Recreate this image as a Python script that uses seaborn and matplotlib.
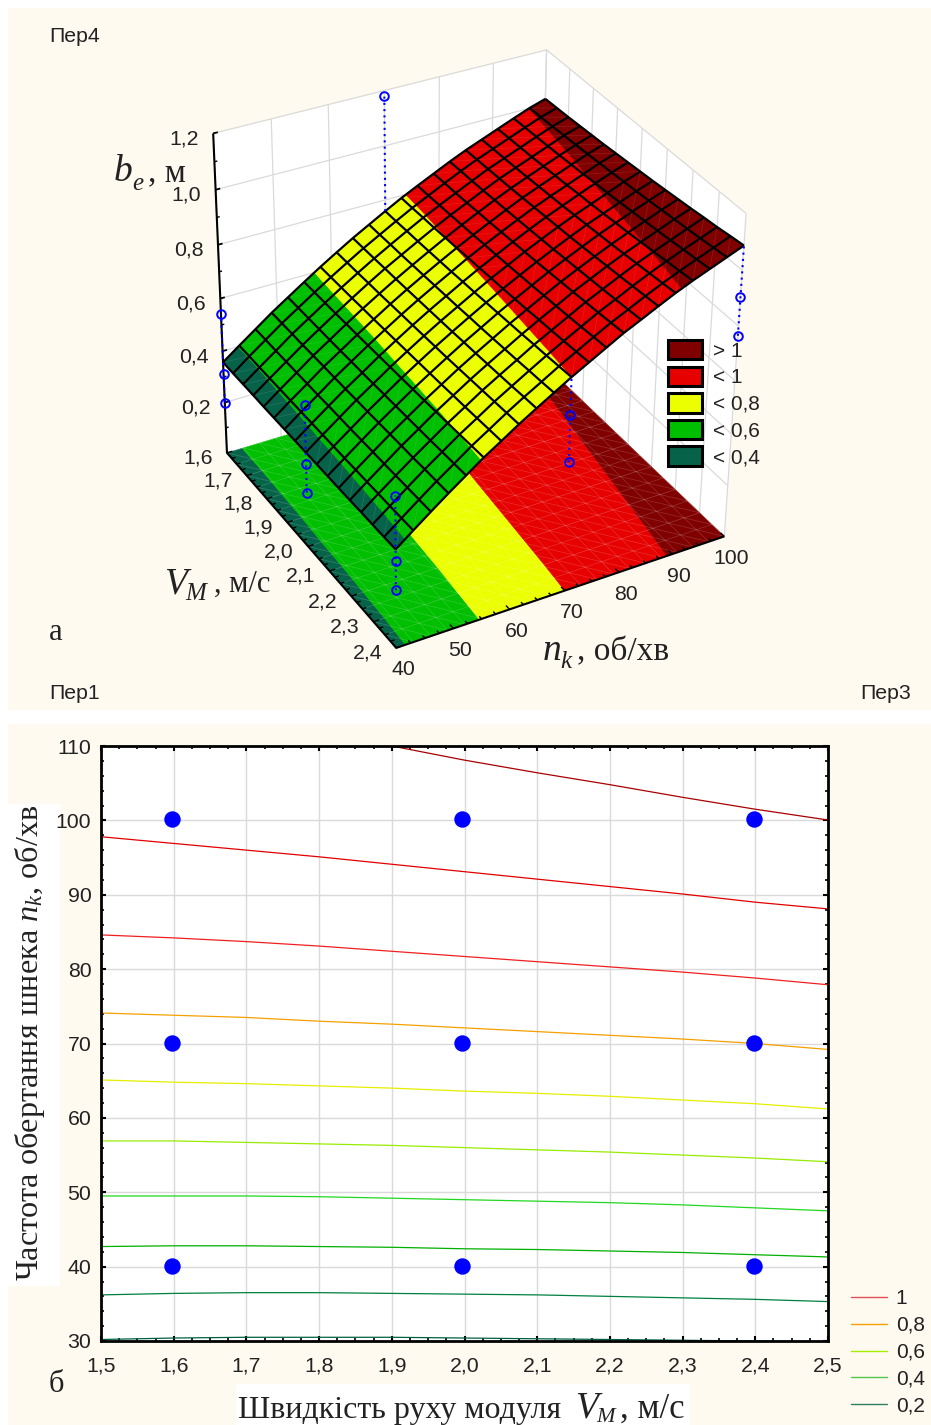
import numpy as np
import matplotlib
matplotlib.use("Agg")
import matplotlib.pyplot as plt
import seaborn as sns
from matplotlib.patches import Rectangle, Patch
from matplotlib.lines import Line2D
from mpl_toolkits.mplot3d.art3d import Line3DCollection

W, H = 931, 1425

# --- data ---
v_mesh = [1.6, 1.65, 1.7, 1.75, 1.8, 1.85, 1.9, 1.95, 2.0, 2.05, 2.1, 2.15, 2.2, 2.25, 2.3, 2.35, 2.4]
n_mesh = [40, 43, 46, 49, 52, 55, 58, 61, 64, 67, 70, 73, 76, 79, 82, 85, 88, 91, 94, 97, 100]
z_mesh = [
    [.357, .357, .358, .359, .359, .360, .361, .362, .363, .364, .365, .366, .367, .369, .370, .371, .373],
    [.403, .404, .404, .405, .406, .407, .408, .409, .410, .411, .412, .414, .415, .417, .418, .420, .422],
    [.448, .449, .449, .450, .451, .452, .453, .455, .456, .457, .459, .461, .462, .464, .466, .468, .470],
    [.493, .494, .495, .495, .497, .498, .499, .500, .502, .503, .505, .507, .509, .510, .513, .515, .517],
    [.534, .535, .536, .537, .538, .539, .541, .542, .544, .546, .548, .550, .552, .554, .557, .559, .562],
    [.575, .576, .577, .578, .580, .581, .583, .585, .587, .589, .591, .593, .596, .598, .601, .604, .607],
    [.615, .616, .617, .618, .620, .621, .623, .625, .627, .629, .631, .633, .636, .638, .641, .644, .647],
    [.653, .654, .655, .657, .658, .660, .662, .664, .666, .668, .670, .673, .676, .679, .682, .685, .688],
    [.690, .691, .692, .694, .695, .697, .699, .701, .703, .705, .708, .710, .713, .716, .719, .723, .726],
    [.724, .725, .727, .728, .730, .732, .734, .736, .738, .741, .743, .746, .749, .752, .756, .759, .763],
    [.758, .759, .761, .762, .764, .766, .768, .771, .773, .776, .779, .782, .785, .789, .792, .796, .800],
    [.791, .792, .794, .795, .797, .799, .802, .804, .807, .809, .812, .815, .819, .822, .826, .830, .834],
    [.821, .822, .824, .826, .828, .830, .833, .835, .838, .841, .844, .848, .851, .855, .859, .864, .868],
    [.850, .852, .853, .855, .858, .860, .863, .866, .869, .872, .876, .880, .884, .888, .892, .897, .902],
    [.879, .881, .882, .884, .887, .889, .892, .895, .898, .901, .905, .909, .913, .917, .921, .926, .931],
    [.906, .908, .910, .912, .914, .917, .920, .923, .926, .929, .933, .937, .942, .946, .951, .956, .961],
    [.930, .932, .934, .936, .939, .942, .945, .948, .952, .956, .960, .964, .969, .974, .979, .984, .990],
    [.954, .956, .958, .960, .963, .966, .969, .973, .976, .980, .985, .989, .994, .999, 1.005, 1.010, 1.016],
    [.978, .980, .982, .984, .987, .990, .993, .997, 1.000, 1.004, 1.009, 1.013, 1.018, 1.023, 1.029, 1.034, 1.040],
    [1.001, 1.003, 1.005, 1.008, 1.010, 1.013, 1.017, 1.020, 1.024, 1.028, 1.032, 1.037, 1.042, 1.047, 1.052, 1.058, 1.064],
    [1.020, 1.022, 1.024, 1.027, 1.030, 1.033, 1.037, 1.041, 1.045, 1.049, 1.054, 1.059, 1.064, 1.070, 1.075, 1.082, 1.088],
]

# isolines of the lower panel, n at each v_iso
v_iso = [1.5, 1.6, 1.7, 1.8, 1.9, 2.0, 2.1, 2.2, 2.3, 2.4, 2.5]
iso_11 = [np.nan, np.nan, np.nan, np.nan, 110, 108.1, 106.4, 104.8, 103.1, 101.5, 100.05]
iso_10 = [97.8, 96.9, 96.0, 95.1, 94.1, 93.1, 92.1, 91.1, 90.1, 89.0, 88.1]
iso_09 = [84.6, 84.2, 83.7, 83.1, 82.4, 81.7, 81.0, 80.3, 79.6, 78.8, 77.9]
iso_08 = [74.1, 73.8, 73.5, 73.0, 72.6, 72.1, 71.6, 71.1, 70.6, 70.0, 69.2]
iso_07 = [65.1, 64.8, 64.6, 64.3, 64.0, 63.6, 63.3, 62.9, 62.4, 61.9, 61.2]
iso_06 = [56.9, 56.9, 56.7, 56.5, 56.3, 56.0, 55.7, 55.4, 55.0, 54.6, 54.1]
iso_05 = [49.5, 49.5, 49.5, 49.4, 49.2, 49.0, 48.8, 48.6, 48.3, 47.9, 47.5]
iso_04 = [42.7, 42.8, 42.8, 42.7, 42.6, 42.4, 42.3, 42.1, 41.9, 41.6, 41.3]
iso_03 = [36.2, 36.4, 36.5, 36.5, 36.4, 36.3, 36.2, 36.0, 35.8, 35.6, 35.3]
iso_02 = [30.2, 30.4, 30.5, 30.5, 30.5, 30.4, 30.3, 30.2, 30.1, 30.0, 29.9]
iso_all = [iso_11, iso_10, iso_09, iso_08, iso_07, iso_06, iso_05, iso_04, iso_03, iso_02]
iso_colors = ["#A80000", "#E00000", "#F02020", "#F5A000", "#E6EE00", "#98EC00", "#20D820", "#00B000", "#008040", "#006040"]

# measured points, upper panel (dotted stems up to / down to the surface)
stem_v = [1.6, 1.6, 2.0, 2.4, 2.4, 2.4]
stem_n = [40, 70, 40, 40, 70, 100]
stem_surf = [.357, .758, .363, .373, .800, 1.088]
stem_z = [[.54, .31, .20], [1.18], [.54, .318, .21], [.57, .33, .22], [.665, .49], [.905, .765]]

# measured points, lower panel
point_v = [1.597, 1.997, 2.398, 1.597, 1.997, 2.398, 1.597, 1.997, 2.398]
point_n = [100.2, 100.2, 100.2, 70.1, 70.1, 70.1, 40.1, 40.1, 40.1]

v_ticks = [1.6, 1.7, 1.8, 1.9, 2.0, 2.1, 2.2, 2.3, 2.4]
n_ticks = [40, 50, 60, 70, 80, 90, 100]
z_ticks = [0.2, 0.4, 0.6, 0.8, 1.0, 1.2]
x2_ticks = [1.5, 1.6, 1.7, 1.8, 1.9, 2.0, 2.1, 2.2, 2.3, 2.4, 2.5]
y2_ticks = [30, 40, 50, 60, 70, 80, 90, 100, 110]

band_colors = ["#06634A", "#00BE00", "#EBFF00", "#E60000", "#800000"]
band_labels = ["> 1", "< 1", "< 0,8", "< 0,6", "< 0,4"]

# box corners in the picture, used to place the camera
calib_world = [(1.6, 40, 1.2), (1.6, 100, 1.2), (2.4, 100, 1.2), (1.6, 40, 0), (2.4, 40, 0), (2.4, 100, 0), (1.6, 40, .6)]
calib_px = [(213, 134), (547, 50), (746, 213), (227, 452.7), (396.7, 648), (724, 536.7), (220, 298)]

sns.set_theme(style="white")
plt.rcParams["font.family"] = ["Liberation Sans", "DejaVu Sans"]
plt.rcParams["text.color"] = "#222222"
plt.rcParams["axes.labelcolor"] = "#222222"
plt.rcParams["xtick.color"] = "#222222"
plt.rcParams["ytick.color"] = "#222222"
plt.rcParams["mathtext.fontset"] = "custom"
plt.rcParams["mathtext.rm"] = "Liberation Serif"
plt.rcParams["mathtext.it"] = "Liberation Serif:italic"
sans_size = 15.3

fig = plt.figure(figsize=(W / 100, H / 100), dpi=100, facecolor="white")


def ftext(x, y, s, **kw):
    return fig.text(x / W, 1 - y / H, s, **kw)


def frect(x0, y0, x1, y1, color):
    fig.add_artist(Rectangle((x0 / W, 1 - y1 / H), (x1 - x0) / W, (y1 - y0) / H, transform=fig.transFigure,
                             facecolor=color, edgecolor="none", zorder=-2))


cream = "#FFFAF0"
frect(8, 8, 931, 710, cream)
frect(8, 724, 931, 1425, cream)
frect(8, 804, 60, 1286, "white")
frect(236, 1384, 690, 1425, "white")

# camera from the box corners
scale_w = np.array([[1 / .4, 0, 0, -2 / .4], [0, 1 / 30, 0, -70 / 30], [0, 0, 1 / .6, -1], [0, 0, 0, 1]])
rows = []
for (a, b, c), (px, py) in zip(calib_world, calib_px):
    q = scale_w @ np.array([a, b, c, 1])
    rows.append(list(q) + [0, 0, 0, 0] + list(-px * q))
    rows.append([0, 0, 0, 0] + list(q) + list(-py * q))
P = np.linalg.svd(np.array(rows))[2][-1].reshape(3, 4) @ scale_w


def to_px(a, b, c):
    u = P @ np.array([a, b, c, 1])
    return u[0] / u[2], u[1] / u[2]


ax3 = fig.add_axes([0, 1 - W / H, 1, W / H], projection="3d", computed_zorder=False)
ax3.set_axis_off()
ax3.patch.set_visible(False)


def camera():
    tr = ax3.transData.inverted()
    p0, p1 = tr.transform([[0, H], [W, 0]])
    A = np.array([[(p1[0] - p0[0]) / W, 0, p0[0]], [0, (p1[1] - p0[1]) / H, p0[1]], [0, 0, 1]])
    Q = A @ P
    return np.array([Q[0], Q[1], [0, 0, 1, 0], Q[2]])


ax3.get_proj = camera


def line3(xs, ys, zs, color, lw, z, ls="solid"):
    ax3.add_collection3d(Line3DCollection([list(zip(xs, ys, zs))], colors=[color], linewidths=lw, linestyles=ls, zorder=z))


grey = "#DADADA"
# walls
ax3.plot_surface(np.array([[1.6, 1.6], [1.6, 1.6]]), np.array([[40, 100], [40, 100]]), np.array([[0, 0], [1.2, 1.2]]),
                 color="white", shade=False, linewidth=0, zorder=1)
ax3.plot_surface(np.array([[1.6, 2.4], [1.6, 2.4]]), np.array([[100, 100], [100, 100]]), np.array([[0, 0], [1.2, 1.2]]),
                 color="white", shade=False, linewidth=0, zorder=1)
for z in z_ticks:
    line3([1.6, 1.6, 2.4], [40, 100, 100], [z, z, z], grey, .9, 2)
for n in n_ticks:
    line3([1.6, 1.6], [n, n], [0, 1.2], grey, .9, 2)
for v in v_ticks:
    line3([v, v], [100, 100], [0, 1.2], grey, .9, 2)

# colour bands, built from the isolines of the lower panel (V 1.6 ... 2.4)
v_band = np.array(v_iso[1:10])
n40 = np.full(9, 40.0)
n100 = np.full(9, 100.0)
z_edge40 = np.array(z_mesh[0][::2])
z_edge100 = np.array(z_mesh[-1][::2])
edges = [(n40, z_edge40), (iso_04, .4), (iso_05, .5), (iso_06, .6), (iso_07, .7), (iso_08, .8), (iso_09, .9),
         (iso_10, 1.0), (n100, z_edge100)]
edge_band = [0, 1, 1, 2, 2, 3, 3, 4]
for k in range(len(edges) - 1):
    n_lo = np.array(edges[k][0], dtype=float)
    n_hi = np.array(edges[k + 1][0], dtype=float)
    if len(n_lo) == 11:
        n_lo = n_lo[1:10]
    if len(n_hi) == 11:
        n_hi = n_hi[1:10]
    z_lo = np.full(9, edges[k][1]) if np.isscalar(edges[k][1]) else edges[k][1]
    z_hi = np.full(9, edges[k + 1][1]) if np.isscalar(edges[k + 1][1]) else edges[k + 1][1]
    X = np.vstack([v_band, v_band])
    Y = np.vstack([n_lo, n_hi])
    c = band_colors[edge_band[k]]
    ax3.plot_surface(X, Y, np.zeros_like(X), color=c, shade=False, linewidth=.4, edgecolor=c, zorder=3)
    ax3.plot_surface(X, Y, np.vstack([z_lo, z_hi]), color=c, shade=False, linewidth=.4, edgecolor=c, zorder=6)

VV, NN = np.meshgrid(v_mesh, n_mesh)
ZZ = np.array(z_mesh)

# faint triangle mesh on the floor and the surface
floor_segs = []
surf_segs = []
for i in range(len(n_mesh) - 1):
    for j in range(len(v_mesh) - 1):
        floor_segs.append([(v_mesh[j], n_mesh[i], 0), (v_mesh[j + 1], n_mesh[i + 1], 0)])
        if v_mesh[j] < 2.0:
            surf_segs.append([(v_mesh[j], n_mesh[i], ZZ[i, j]), (v_mesh[j + 1], n_mesh[i + 1], ZZ[i + 1, j + 1])])
        else:
            surf_segs.append([(v_mesh[j + 1], n_mesh[i], ZZ[i, j + 1]), (v_mesh[j], n_mesh[i + 1], ZZ[i + 1, j])])
ax3.add_collection3d(Line3DCollection(floor_segs, colors=[(1, 1, 1, .16)], linewidths=.6, zorder=4))
ax3.plot_wireframe(VV, NN, np.zeros_like(ZZ), color=(1, 1, 1, .16), linewidth=.6, zorder=4)
ax3.add_collection3d(Line3DCollection(surf_segs, colors=[(1, 1, 1, .13)], linewidths=.45, zorder=7))
ax3.plot_wireframe(VV, NN, ZZ, color="black", linewidth=1.6, zorder=8)

# axes lines and ticks
line3([1.6, 1.6, 2.4, 2.4], [40, 40, 40, 100], [1.2, 0, 0, 0], "black", 1.5, 5)
for z in z_ticks:
    line3([1.6, 1.6], [40, 40.8], [z, z], "black", 1.3, 5)
for z in [.1, .3, .5, .7, .9, 1.1]:
    line3([1.6, 1.6], [40, 40.5], [z, z], "black", 1.0, 5)
for k in range(33):
    v = 1.6 + k * .025
    line3([v, v], [40, 41 if k % 4 == 0 else 40.7], [0, 0], "black", 1.0, 5)
for k in range(25):
    n = 40 + k * 2.5
    line3([2.4, 2.385 if k % 4 == 0 else 2.39], [n, n], [0, 0], "black", 1.0, 5)

# dotted stems
for v, n, s, zs in zip(stem_v, stem_n, stem_surf, stem_z):
    all_z = sorted(zs + [s])
    line3([v] * len(all_z), [n] * len(all_z), all_z, "#0000FF", 1.5, 9, ls=(0, (1, 2)))

# tick labels of the 3D box
for z in z_ticks:
    x, y = to_px(1.6, 40, z)
    ftext(x - 29, y + 5.5, f"{z:.1f}".replace(".", ","), ha="center", va="center", fontsize=sans_size)
for v in v_ticks:
    x, y = to_px(v, 40, 0)
    ftext(x - 29, y + 5.5, f"{v:.1f}".replace(".", ","), ha="center", va="center", fontsize=sans_size)
for n in n_ticks:
    x, y = to_px(2.4, n, 0)
    ftext(x + 7, y + 22, str(n), ha="center", va="center", fontsize=sans_size)

ax3.legend(handles=[Patch(facecolor=c, edgecolor="black", linewidth=2.2) for c in band_colors[::-1]], labels=band_labels,
           loc="upper left", bbox_to_anchor=(668 / W, 1 - 340 / H), bbox_transform=fig.transFigure, frameon=False,
           fontsize=15, handlelength=1.65, handleheight=1.05, labelspacing=.28, handletextpad=.5, borderpad=0, borderaxespad=0)

# panel labels
ftext(49, 37, "Пер4", fontsize=sans_size, va="center")
ftext(49, 693, "Пер1", fontsize=sans_size, va="center")
ftext(860, 693, "Пер3", fontsize=sans_size, va="center")
serif = ["Liberation Serif", "DejaVu Serif"]
ftext(49, 640, "а", family=serif, fontsize=22, va="baseline")
ftext(49, 1392, "б", family=serif, fontsize=22, va="baseline")
ftext(114, 181, "b", family=serif, style="italic", fontsize=27, va="baseline")
ftext(132, 190, "e", family=serif, style="italic", fontsize=18, va="baseline")
ftext(148, 181, ", м", family=serif, fontsize=24, va="baseline")
ftext(164, 593, "V", family=serif, style="italic", fontsize=27, va="baseline")
ftext(185, 600, "M", family=serif, style="italic", fontsize=18, va="baseline")
ftext(214, 592, ", м/с", family=serif, fontsize=22, va="baseline")
ftext(543, 660, "n", family=serif, style="italic", fontsize=27, va="baseline")
ftext(560, 668, "k", family=serif, style="italic", fontsize=18, va="baseline")
ftext(577, 660, ", об/хв", family=serif, fontsize=24, va="baseline")

# lower panel
ax2 = fig.add_axes([101 / W, 1 - 1341 / H, 727 / W, 595 / H], facecolor="white")
for line, c in zip(iso_all, iso_colors):
    sns.lineplot(x=v_iso, y=line, color=c, linewidth=.9, errorbar=None, ax=ax2, legend=False)
sns.scatterplot(x=point_v, y=point_n, color="#0000FF", s=140, linewidth=0, zorder=5, ax=ax2, legend=False)
ax2.set_xlim(1.5, 2.5)
ax2.set_ylim(30, 110)
ax2.set_xticks(x2_ticks)
ax2.set_xticklabels([f"{v:.1f}".replace(".", ",") for v in x2_ticks])
ax2.set_yticks(y2_ticks)
ax2.set_xticks([1.5 + k * .025 for k in range(41)], minor=True)
ax2.set_yticks([30 + k * 2 for k in range(41)], minor=True)
ax2.grid(True, which="major", color=grey, lw=1.0)
ax2.set_axisbelow(True)
ax2.tick_params(which="major", direction="in", length=3.5, width=1.5, top=True, right=True, bottom=True, left=True,
                labelsize=sans_size, pad=11, color="black")
ax2.tick_params(axis="y", which="major", pad=7)
ax2.tick_params(which="minor", direction="in", length=2, width=1.2, top=True, right=True, bottom=True, left=True, color="black")
for s in ax2.spines.values():
    s.set_visible(True)
    s.set_color("black")
    s.set_linewidth(2.0)
ax2.set_xlabel("")
ax2.set_ylabel("")

ftext(30, 1281, "Частота обертання шнека $n_k$, об/хв", family=serif, fontsize=23.2, rotation=90, ha="center", va="bottom")
ftext(238, 1418, "Швидкість руху модуля", family=serif, fontsize=23, va="baseline")
ftext(575, 1418, "V", family=serif, style="italic", fontsize=27, va="baseline")
ftext(596, 1422, "M", family=serif, style="italic", fontsize=16, va="baseline")
ftext(620, 1418, ", м/с", family=serif, fontsize=25, va="baseline")

leg_colors = ["#E05050", "#F5A000", "#A0F000", "#50C850", "#2E8060"]
leg_labels = ["1", "0,8", "0,6", "0,4", "0,2"]
fig.legend(handles=[Line2D([], [], color=c, lw=1.0) for c in leg_colors], labels=leg_labels, loc="upper left",
           bbox_to_anchor=(851 / W, 1 - 1289 / H), bbox_transform=fig.transFigure, frameon=False, fontsize=15,
           handlelength=1.75, labelspacing=.38, handletextpad=.4, borderpad=0, borderaxespad=0)

# open circles of the measured points, placed through the same camera
overlay = fig.add_axes([0, 0, 1, 1])
overlay.set_xlim(0, W)
overlay.set_ylim(H, 0)
overlay.axis("off")
for v, n, zs in zip(stem_v, stem_n, stem_z):
    xy = [to_px(v, n, z) for z in zs]
    overlay.plot([p[0] for p in xy], [p[1] for p in xy], ls="none", marker="o", ms=6.2, mfc="none", mec="#0000FF", mew=1.4)

fig.savefig("out.png", dpi=100)
